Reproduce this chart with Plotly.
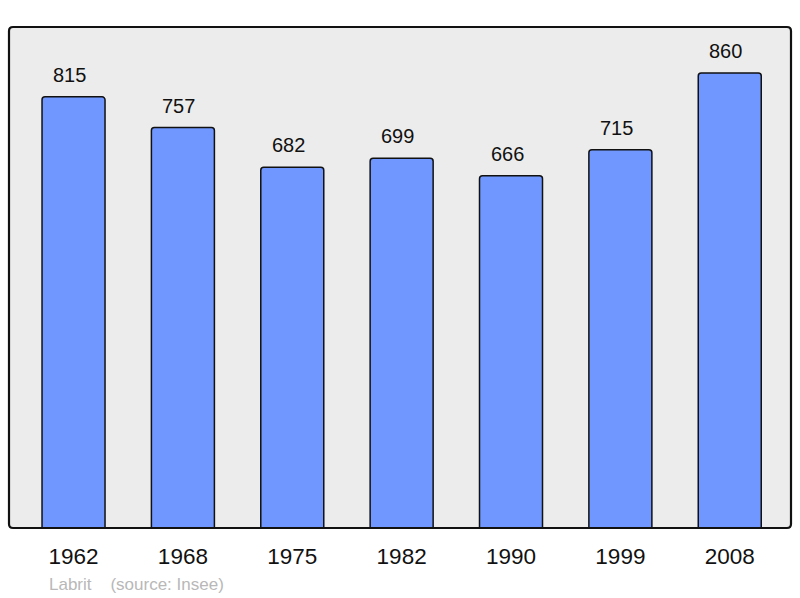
import plotly.graph_objects as go

# Population of Labrit by census year
years = ["1962", "1968", "1975", "1982", "1990", "1999", "2008"]
population = [815, 757, 682, 699, 666, 715, 860]

W, H = 800, 598
M = dict(l=9, r=9, t=27, b=70)

fig = go.Figure()
fig.add_trace(go.Bar(x=years, y=population, width=0.576,
                     marker=dict(color="#7097ff", line=dict(color="#111111", width=1.5), cornerradius=3),
                     hoverinfo="x+y"))

# value labels above each bar (category axes want the index here)
for i, val in enumerate(population):
    fig.add_annotation(x=i, y=val, text=str(val), showarrow=False, yshift=22, xshift=-4,
                       yanchor="middle", font=dict(size=20, color="#111111"))

# rounded frame around the plot area
pw = W - M["l"] - M["r"]
ph = H - M["t"] - M["b"]
rx, ry = 4 / pw, 4 / ph
frame = (f"M {rx},0 L {1-rx},0 Q 1,0 1,{ry} L 1,{1-ry} Q 1,1 {1-rx},1 "
         f"L {rx},1 Q 0,1 0,{1-ry} L 0,{ry} Q 0,0 {rx},0 Z")
fig.add_shape(type="path", xref="paper", yref="paper", path=frame,
              line=dict(color="#111111", width=2.2), layer="above")

fig.add_annotation(text="Labrit&nbsp;&nbsp;&nbsp;&nbsp;(source: Insee)", xref="paper", yref="paper",
                   x=0.049, y=-0.112, xanchor="left", yanchor="middle", showarrow=False,
                   font=dict(size=17, color="#b8b8b8"))

fig.update_layout(width=W, height=H, margin=M,
                  paper_bgcolor="white", plot_bgcolor="#ececec", showlegend=False,
                  font=dict(family="Liberation Sans, Arial, sans-serif"))
fig.update_xaxes(type="category", range=[-0.59, 6.56], showgrid=False, ticks="",
                 ticklabelstandoff=12, tickfont=dict(size=22.5, color="#111111"))
fig.update_yaxes(range=[0, 947], showgrid=False, showticklabels=False, zeroline=False)

fig.write_html("out.html", config={"displayModeBar": False},
               post_script="document.body.style.margin='0';")
